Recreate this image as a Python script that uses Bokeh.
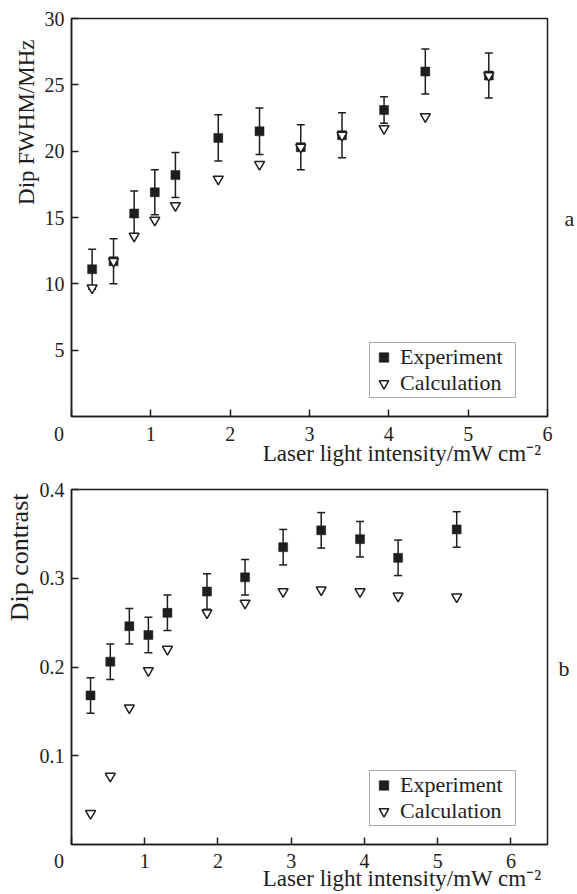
from bokeh.embed import file_html
from bokeh.layouts import column
from bokeh.models import (ColumnDataSource, FixedTicker, Legend, LegendItem,
                          LinearAxis, Range1d, TeeHead, Title, Whisker)
from bokeh.plotting import figure
from bokeh.resources import INLINE

# Laser light intensity, mW cm^-2 (shared by both panels)
intensity = [0.26, 0.53, 0.79, 1.05, 1.31, 1.85, 2.37, 2.89, 3.41, 3.94, 4.46, 5.26]

# (a) dip width (FWHM), MHz
fwhm_exp = [11.1, 11.7, 15.3, 16.9, 18.2, 21.0, 21.5, 20.3, 21.2, 23.1, 26.0, 25.7]
fwhm_err = [1.5, 1.7, 1.7, 1.7, 1.7, 1.75, 1.75, 1.7, 1.7, 1.0, 1.7, 1.7]
fwhm_calc = [9.7, 11.7, 13.6, 14.8, 15.9, 17.9, 19.0, 20.3, 21.2, 21.7, 22.6, 25.7]

# (b) dip contrast
contrast_exp = [0.168, 0.206, 0.246, 0.236, 0.261, 0.285, 0.301, 0.335, 0.354, 0.344, 0.323, 0.355]
contrast_err = [0.02, 0.02, 0.02, 0.02, 0.02, 0.02, 0.02, 0.02, 0.02, 0.02, 0.02, 0.02]
contrast_calc = [0.035, 0.077, 0.154, 0.196, 0.220, 0.261, 0.272, 0.285, 0.287, 0.285, 0.280, 0.279]

# tick positions
fwhm_x_ticks = [0, 1, 2, 3, 4, 5, 6]
fwhm_y_ticks = [5, 10, 15, 20, 25, 30]
contrast_x_ticks = [0, 1, 2, 3, 4, 5, 6]
contrast_y_ticks = [0.1, 0.2, 0.3, 0.4]

X_TITLE = "Laser light intensity/mW cm\u207b\u00b2"

FONT = "Liberation Serif"
INK = "#1e1e1e"
# the shared origin label sits left of the corner
ORIGIN_LABEL = "0" + "\u00a0" * 5


def make_panel(x_end, y_end, x_ticks, y_ticks, frame_h, border_top, border_bottom,
               x_standoff):
    p = figure(frame_width=476, frame_height=frame_h,
               min_border_left=70, min_border_right=31,
               min_border_top=border_top, min_border_bottom=border_bottom,
               x_range=Range1d(0, x_end), y_range=Range1d(0, y_end),
               output_backend="svg", toolbar_location=None, tools="")
    p.xgrid.visible = False
    p.ygrid.visible = False
    p.background_fill_color = "white"
    p.border_fill_color = "white"
    p.outline_line_color = INK
    p.outline_line_width = 1.5
    for ax in (p.xaxis[0], p.yaxis[0]):
        ax.axis_line_color = INK
        ax.axis_line_width = 1.5
        ax.major_tick_in = 7
        ax.major_tick_out = 0
        ax.major_tick_line_color = INK
        ax.major_tick_line_width = 1.5
        ax.minor_tick_line_color = None
        ax.major_label_text_font = FONT
        ax.major_label_text_font_size = "20px"
        ax.major_label_text_color = INK
    p.yaxis.major_label_standoff = 7
    p.xaxis.major_label_standoff = x_standoff
    p.xaxis.ticker = FixedTicker(ticks=x_ticks)
    p.xaxis.major_label_overrides = {0: ORIGIN_LABEL}
    p.yaxis.ticker = FixedTicker(ticks=y_ticks)
    return p


def add_titles(p, y_title, y_size, y_offset, x_standoff, letter, letter_at, letter_standoff):
    p.add_layout(Title(text=y_title, align="right", offset=y_offset, standoff=5,
                       text_font=FONT, text_font_size=y_size, text_font_style="normal",
                       text_color=INK), "left")
    p.add_layout(Title(text=X_TITLE, align="right", vertical_align="top", offset=6,
                       standoff=x_standoff,
                       text_font=FONT, text_font_size="23px", text_font_style="normal",
                       text_color=INK), "below")
    # panel letter on the right, carried by a bare axis with one labelled tick
    tag = LinearAxis(ticker=FixedTicker(ticks=[letter_at]),
                     major_label_overrides={letter_at: letter},
                     axis_line_color=None, major_tick_line_color=None,
                     minor_tick_line_color=None,
                     major_label_standoff=letter_standoff,
                     major_label_text_font=FONT, major_label_text_font_size="22px",
                     major_label_text_color=INK)
    p.add_layout(tag, "right")


def add_series(p, y_exp, y_err, y_calc):
    src = ColumnDataSource(dict(
        x=intensity,
        exp=y_exp,
        lo=[v - e for v, e in zip(y_exp, y_err)],
        hi=[v + e for v, e in zip(y_exp, y_err)],
        calc=y_calc,
    ))
    p.add_layout(Whisker(source=src, base="x", lower="lo", upper="hi", dimension="height",
                         line_color=INK, line_width=1.5,
                         lower_head=TeeHead(size=8, line_color=INK, line_width=1.5),
                         upper_head=TeeHead(size=8, line_color=INK, line_width=1.5)))
    r_exp = p.scatter("x", "exp", source=src, marker="square", size=9,
                      fill_color=INK, line_color=INK, line_width=0.5)
    r_calc = p.scatter("x", "calc", source=src, marker="inverted_triangle", size=10,
                       fill_color="white", line_color=INK, line_width=1.5)
    legend = Legend(items=[LegendItem(label="Experiment", renderers=[r_exp]),
                           LegendItem(label="Calculation", renderers=[r_calc])],
                    location=(298, 18), margin=0, padding=1, spacing=0,
                    glyph_width=25, glyph_height=24, label_height=24,
                    label_standoff=4, label_width=114,
                    label_text_font=FONT, label_text_font_size="22px",
                    label_text_color=INK,
                    border_line_color="#555555", border_line_width=1,
                    background_fill_color="white", background_fill_alpha=1)
    p.add_layout(legend)


# (a) FWHM panel: 18 + 398 + 55 = 471 px tall
pa = make_panel(6, 30, fwhm_x_ticks, fwhm_y_ticks, 398, 18, 55, 6)
add_series(pa, fwhm_exp, fwhm_err, fwhm_calc)
add_titles(pa, "Dip FWHM/MHz", "23px", 21, -14, "a", 14.9, 11)

# (b) contrast panel: 18 + 355 + 50 = 423 px tall
pb = make_panel(6.5, 0.4, contrast_x_ticks, contrast_y_ticks, 355, 18, 50, 5)
add_series(pb, contrast_exp, contrast_err, contrast_calc)
add_titles(pb, "Dip contrast", "26px", 4, -18, "b", 0.1985, 5)

layout = column(pa, pb, spacing=0)

with open("out.html", "w") as f:
    f.write(file_html(layout, INLINE))
